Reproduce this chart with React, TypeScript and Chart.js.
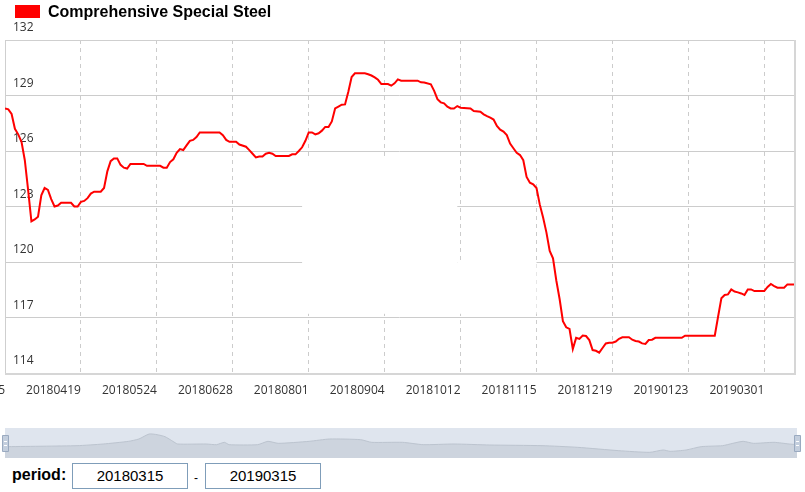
import React, { useEffect, useRef } from 'react';
import { Chart, registerables } from 'chart.js';

Chart.register(...registerables);

const seriesName = 'Comprehensive Special Steel';
const tickLabels = ['20180315', '20180419', '20180524', '20180628', '20180801', '20180904', '20181012', '20181115', '20181219', '20190123', '20190301'];
const ticksEvery = 23;
const lastIndex = 239;
const yMin = 114;
const yMax = 132;
const yStep = 3;

// trading-day index of each vertex
const dayIndex = [
  0, 1, 2, 3, 4, 5, 6, 7, 8, 9, 10, 11, 12, 13, 14, 15, 16, 17, 20, 21, 22, 23, 24, 25, 26, 27, 29, 30, 31, 32, 33, 34, 35, 36, 37, 38, 42, 43, 47, 48, 49, 50, 51,
  52, 53, 54, 55, 56, 57, 58, 59, 65, 66, 67, 68, 70, 71, 73, 74, 75, 76, 77, 78, 79, 80, 81, 82, 86, 87, 88, 89,
  90, 91, 92, 93, 94, 95, 96, 97, 98, 99, 100, 101, 102, 103, 104, 105, 106, 109, 110, 111, 112, 113, 114, 116, 117, 118, 119, 120, 125, 126, 127, 129,
  130, 131, 132, 133, 134, 135, 136, 137, 138, 141, 142, 144, 145, 146, 147, 148, 149, 150, 151, 152, 153, 154, 155, 156, 157, 158, 159, 160, 161, 162, 163, 164, 165, 166, 167, 168, 169,
  170, 171, 172, 173, 174, 175, 176, 177, 178, 179, 180, 181, 182, 183, 184, 185, 186, 187, 189, 190, 191, 192, 193, 194, 195, 196, 197, 205, 206, 215,
  216, 217, 218, 219, 220, 221, 222, 223, 224, 225, 226, 227, 230, 231, 232, 233, 234, 236, 237, 239,
];
const closeValue = [
  128.3, 128.25, 128.0, 127.2, 126.9, 126.5, 125.5, 123.9, 122.2, 122.3, 122.45, 123.6, 124.0, 123.9, 123.4, 123.0, 123.05, 123.2, 123.2, 123.0, 123.0, 123.25, 123.3, 123.45, 123.7, 123.8, 123.8, 124.0, 124.9, 125.45, 125.6, 125.6, 125.25, 125.1, 125.05, 125.3, 125.3, 125.2, 125.2, 125.1, 125.1, 125.4, 125.55,
  125.9, 126.1, 126.05, 126.3, 126.55, 126.6, 126.75, 127.0, 127.0, 126.85, 126.6, 126.5, 126.5, 126.35, 126.23, 126.05, 125.85, 125.65, 125.7, 125.7, 125.85, 125.9, 125.85, 125.73, 125.73, 125.82, 125.82, 126.0,
  126.2, 126.55, 127.0, 127.0, 126.9, 126.96, 127.1, 127.3, 127.3, 127.6, 128.3, 128.4, 128.5, 128.52, 129.2, 130.0, 130.2, 130.2, 130.15, 130.08, 129.98, 129.85, 129.62, 129.62, 129.53, 129.66, 129.87, 129.8, 129.8, 129.71, 129.7, 129.6,
  129.25, 128.8, 128.63, 128.58, 128.4, 128.3, 128.3, 128.43, 128.34, 128.3, 128.16, 128.12, 127.98, 127.88, 127.8, 127.7, 127.35, 127.15, 127.05, 126.86, 126.4, 126.15, 125.9, 125.78, 125.5, 124.6, 124.29, 124.2, 124.0, 123.1, 122.4, 121.6, 120.6, 120.2, 119.0, 118.0, 116.8,
  116.47, 116.38, 115.3, 115.9, 115.84, 116.02, 116.0, 115.78, 115.24, 115.2, 115.1, 115.35, 115.6, 115.64, 115.64, 115.7, 115.85, 115.93, 115.93, 115.8, 115.73, 115.7, 115.6, 115.57, 115.78, 115.8, 115.9, 115.9, 116.02, 116.02,
  117.04, 118.04, 118.22, 118.25, 118.52, 118.4, 118.36, 118.3, 118.22, 118.52, 118.52, 118.43, 118.43, 118.65, 118.81, 118.7, 118.61, 118.61, 118.79, 118.79,
];

// navigator (overview) series: position in % of range, level
const navPos = [0, 9.1, 12.4, 15.6, 16.9, 18.2, 19.2, 20.2, 21.2, 21.8, 25.4, 26.7, 27.7, 28.3, 31.9, 33.2, 34.5, 38.4, 41.0, 44.9, 46.3, 50.2, 52.8, 56.7, 61.2, 67.8, 72.3, 77.5, 81.4, 83.1, 84.0, 86.0, 87.9, 90.6, 91.9, 93.2, 94.5, 97.1, 99.0, 100];
const navLevel = [34, 37, 42, 50, 57, 72, 70, 64, 50, 42, 42, 40, 47, 40, 40, 50, 44, 50, 57, 55, 47, 47, 40, 42, 39, 37, 32, 22, 17, 24, 20, 24, 34, 37, 44, 50, 44, 47, 42, 40];

const periodStart = '20180315';
const periodEnd = '20190315';

const tickFont = { family: '"Open Sans", "DejaVu Sans", sans-serif', size: 12 };

const framePlugin = {
  id: 'frameAndMask',
  beforeDatasetsDraw(chart: any) {
    const { ctx, chartArea: a, scales } = chart;
    const xs = scales.x;
    const ys = scales.y;
    ctx.save();
    // white patch that hides part of the grid in the reference
    ctx.fillStyle = '#ffffff';
    const x1 = xs.getPixelForValue(90);
    const x2 = xs.getPixelForValue(137);
    const x3 = xs.getPixelForValue(161);
    const yTop = ys.getPixelForValue(125.6);
    const yMid = ys.getPixelForValue(120.05);
    const yBot = ys.getPixelForValue(117.2);
    ctx.fillRect(x1, yTop, x2 - x1, yBot - yTop);
    ctx.fillRect(x2, yMid, x3 - x2, yBot - yMid);
    // frame
    ctx.strokeStyle = '#cfcfcf';
    ctx.lineWidth = 1;
    ctx.beginPath();
    ctx.moveTo(a.left + 0.5, a.bottom);
    ctx.lineTo(a.left + 0.5, a.top + 0.5);
    ctx.lineTo(a.right, a.top + 0.5);
    ctx.stroke();
    ctx.strokeStyle = '#d6d6d6';
    ctx.lineWidth = 2;
    ctx.beginPath();
    ctx.moveTo(a.left, a.bottom + 1);
    ctx.lineTo(a.right + 1, a.bottom + 1);
    ctx.lineTo(a.right + 1, a.top);
    ctx.stroke();
    ctx.restore();
  },
};

const navPlugin = {
  id: 'navDecor',
  beforeDatasetsDraw(chart: any) {
    const { ctx, chartArea: a } = chart;
    ctx.save();
    ctx.fillStyle = '#dfe5ee';
    ctx.fillRect(a.left, a.top, a.right - a.left, a.bottom - a.top);
    ctx.restore();
  },
  afterDraw(chart: any) {
    const { ctx, chartArea: a } = chart;
    ctx.save();
    const mid = (a.top + a.bottom) / 2;
    [a.left, a.right].forEach((cx: number) => {
      ctx.fillStyle = '#c3cedd';
      ctx.strokeStyle = '#9aaac0';
      ctx.lineWidth = 1;
      ctx.beginPath();
      ctx.rect(Math.round(cx - 3) + 0.5, Math.round(mid - 8) + 0.5, 6, 16);
      ctx.fill();
      ctx.stroke();
      ctx.strokeStyle = '#ffffff';
      ctx.beginPath();
      ctx.moveTo(Math.round(cx - 1), Math.round(mid - 2) + 0.5);
      ctx.lineTo(Math.round(cx + 2), Math.round(mid - 2) + 0.5);
      ctx.moveTo(Math.round(cx - 1), Math.round(mid + 2) + 0.5);
      ctx.lineTo(Math.round(cx + 2), Math.round(mid + 2) + 0.5);
      ctx.stroke();
    });
    ctx.restore();
  },
};

export default function App() {
  const mainRef = useRef<HTMLCanvasElement>(null);
  const navRef = useRef<HTMLCanvasElement>(null);

  useEffect(() => {
    const main = new Chart(mainRef.current as HTMLCanvasElement, {
      type: 'line',
      data: {
        datasets: [
          {
            label: seriesName,
            data: dayIndex.map((d, i) => ({ x: d, y: closeValue[i] })),
            borderColor: '#ff0000',
            borderWidth: 2,
            pointRadius: 0,
            tension: 0,
            fill: false,
          },
        ],
      },
      options: {
        animation: false,
        responsive: false,
        layout: { padding: { top: 40, right: 11, left: 0, bottom: 0 } },
        plugins: { legend: { display: false }, tooltip: { enabled: false } },
        scales: {
          x: {
            type: 'linear',
            min: 0,
            max: lastIndex,
            afterBuildTicks: (s: any) => {
              s.ticks = tickLabels.map((_, i) => ({ value: i * ticksEvery }));
            },
            afterFit: (s: any) => {
              s.height = 37;
              s.paddingLeft = 0;
              s.paddingRight = 0;
            },
            grid: { color: '#cccccc', drawTicks: false, tickLength: 0 },
            border: { display: false, dash: [4, 4] },
            ticks: {
              callback: (v: any) => tickLabels[Math.round(Number(v) / ticksEvery)] ?? '',
              align: 'end',
              padding: 10,
              color: '#333333',
              font: tickFont,
              maxRotation: 0,
              autoSkip: false,
            },
          },
          y: {
            type: 'linear',
            min: yMin,
            max: yMax,
            afterFit: (s: any) => {
              s.width = 5;
              s.paddingTop = 0;
              s.paddingBottom = 0;
            },
            grid: { color: '#cccccc', drawTicks: false, tickLength: 0 },
            border: { display: false },
            ticks: {
              stepSize: yStep,
              mirror: true,
              padding: 8,
              labelOffset: -12,
              color: '#333333',
              font: tickFont,
            },
          },
        },
      },
      plugins: [framePlugin],
    } as any);

    const nav = new Chart(navRef.current as HTMLCanvasElement, {
      type: 'line',
      data: {
        datasets: [
          {
            data: navPos.map((p, i) => ({ x: p, y: navLevel[i] })),
            borderColor: '#bcc4cf',
            backgroundColor: '#cdd4de',
            borderWidth: 1,
            pointRadius: 0,
            tension: 0.2,
            fill: 'start',
          },
        ],
      },
      options: {
        animation: false,
        responsive: false,
        layout: { padding: { top: 8, right: 8, left: 5, bottom: 2 } },
        plugins: { legend: { display: false }, tooltip: { enabled: false } },
        scales: {
          x: { type: 'linear', min: 0, max: 100, display: false },
          y: { type: 'linear', min: 0, max: 90, display: false },
        },
      },
      plugins: [navPlugin],
    } as any);

    return () => {
      main.destroy();
      nav.destroy();
    };
  }, []);

  const boxStyle: React.CSSProperties = {
    position: 'absolute',
    top: 463,
    width: 114,
    height: 24,
    border: '1px solid #7f9db9',
    textAlign: 'center',
    lineHeight: '24px',
    fontSize: 15,
    color: '#000',
    background: '#fff',
  };

  return (
    <div
      style={{
        position: 'absolute',
        left: 0,
        top: 0,
        width: 805,
        height: 492,
        background: '#ffffff',
        overflow: 'hidden',
        fontFamily: '"Liberation Sans", Arial, sans-serif',
      }}
    >
      <canvas ref={mainRef} width={805} height={410} style={{ position: 'absolute', left: 0, top: 0 }} />
      <canvas ref={navRef} width={805} height={40} style={{ position: 'absolute', left: 0, top: 420 }} />
      <div style={{ position: 'absolute', left: 15, top: 5, width: 25, height: 13, background: '#ff0000' }} />
      <div style={{ position: 'absolute', left: 48, top: 2, fontWeight: 'bold', fontSize: 16, lineHeight: '20px', color: '#000', whiteSpace: 'nowrap' }}>
        {seriesName}
      </div>
      <div style={{ position: 'absolute', left: 12, top: 465, fontWeight: 'bold', fontSize: 16, lineHeight: '20px', color: '#000' }}>period:</div>
      <div style={{ ...boxStyle, left: 72 }}>{periodStart}</div>
      <div style={{ position: 'absolute', left: 194, top: 470, fontSize: 12, lineHeight: '16px', color: '#000' }}>-</div>
      <div style={{ ...boxStyle, left: 205 }}>{periodEnd}</div>
    </div>
  );
}
